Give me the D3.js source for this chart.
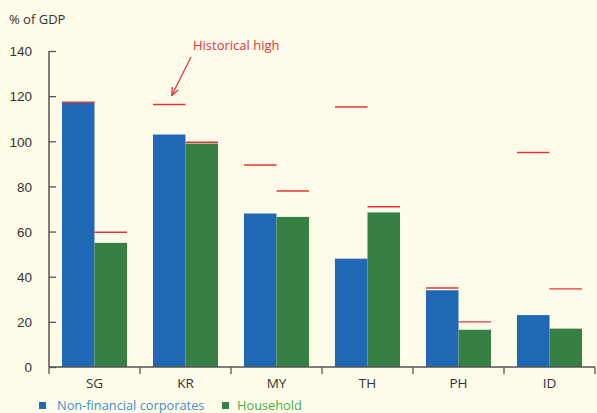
<!DOCTYPE html>
<html><head><meta charset="utf-8">
<script src="https://cdn.jsdelivr.net/npm/d3@7"></script>
<style>
html,body{margin:0;padding:0;background:#fffcea;}
svg{display:block;font-family:"Open Sans","Noto Sans",sans-serif;}
</style></head>
<body>
<svg id="c" width="597" height="413"></svg>
<script>
const categories = ["SG","KR","MY","TH","PH","ID"];
const corporates = [117, 103, 68, 48, 34, 23];
const household  = [55, 99, 66.5, 68.5, 16.5, 17];
const corpHigh   = [117.3, 116.3, 89.5, 115.2, 35, 95];
const hhHigh     = [59.7, 99.6, 78, 71, 20, 34.6];
const yTicks = [0,20,40,60,80,100,120,140];
const seriesNames = ["Non-financial corporates","Household"];
const colors = ["#1f69b4","#368043"];
const legendColors = ["#3b8fd3","#3cb44b"];
const red = "#e8333a";

const svg = d3.select("#c");
const x0 = 49, x1 = 595, yBase = 367, yTop = 51;
const x = d3.scaleBand().domain(categories).range([x0, x1]).paddingInner(0.285).paddingOuter(0.1425);
const xs = d3.scaleBand().domain([0,1]).range([0, x.bandwidth()]);
const y = d3.scaleLinear().domain([0,140]).range([yBase, yTop]);

const data = categories.map((c,i)=>({c, vals:[corporates[i], household[i]], highs:[corpHigh[i], hhHigh[i]]}));

const g = svg.append("g");
data.forEach(d=>{
  d.vals.forEach((v,k)=>{
    g.append("rect")
      .attr("x", x(d.c)+xs(k)).attr("width", xs.bandwidth())
      .attr("y", y(v)).attr("height", yBase - y(v))
      .attr("fill", colors[k]);
  });
});
data.forEach(d=>{
  d.highs.forEach((v,k)=>{
    g.append("line")
      .attr("x1", x(d.c)+xs(k)).attr("x2", x(d.c)+xs(k)+xs.bandwidth())
      .attr("y1", y(v)).attr("y2", y(v))
      .attr("stroke", red).attr("stroke-width", 1.4);
  });
});

// y axis
const ya = svg.append("g").attr("transform",`translate(${x0},0)`)
  .call(d3.axisRight(y).tickValues(yTicks).tickSize(7).tickFormat(d3.format("d")));
ya.select(".domain").attr("stroke","#555").attr("stroke-width",1.5).attr("d",`M0,${yTop}V${yBase}`);
ya.selectAll(".tick line").attr("stroke","#555").attr("stroke-width",1.3);
ya.selectAll(".tick text").attr("x",-17).attr("text-anchor","end").attr("fill","#333").style("font-size","13.5px").attr("dy","0.35em");

// x axis
const xEdges = categories.map(c=>x(c)-x.step()*x.paddingInner()/2);
xEdges.push(x1);
const xa = svg.append("g").attr("transform",`translate(0,${yBase})`);
xa.append("line").attr("x1",x0).attr("x2",x1).attr("stroke","#555").attr("stroke-width",1.5);
xEdges.forEach(e=>{
  xa.append("line").attr("x1",e).attr("x2",e).attr("y1",0).attr("y2",7).attr("stroke","#555").attr("stroke-width",1.3);
});
categories.forEach(c=>{
  xa.append("text").attr("x", x(c)+x.bandwidth()/2).attr("y",21).attr("text-anchor","middle")
    .attr("fill","#333").style("font-size","13.5px").text(c);
});

// title
svg.append("text").attr("x",9).attr("y",24).attr("fill","#333").style("font-size","13px").text("% of GDP");

// annotation
svg.append("text").attr("x",193).attr("y",50).attr("fill",red).style("font-size","13px").text("Historical high");
svg.append("defs").append("marker").attr("id","ah").attr("viewBox","0 0 10 10").attr("refX",9).attr("refY",5)
  .attr("markerWidth",7).attr("markerHeight",7).attr("orient","auto")
  .append("path").attr("d","M0,1L10,5L0,9").attr("fill","none").attr("stroke",red).attr("stroke-width",1.5);
svg.append("line").attr("x1",191).attr("y1",57).attr("x2",172).attr("y2",95)
  .attr("stroke",red).attr("stroke-width",1.2).attr("marker-end","url(#ah)");

// legend
const lg = svg.append("g");
const lx = [39, 222];
const tx = [57, 237];
seriesNames.forEach((n,k)=>{
  lg.append("rect").attr("x",lx[k]).attr("y",402).attr("width",7).attr("height",7).attr("fill",colors[k]);
  lg.append("text").attr("x",tx[k]).attr("y",410).attr("fill",legendColors[k]).style("font-size","12.8px").text(n);
});
</script>
</body></html>
